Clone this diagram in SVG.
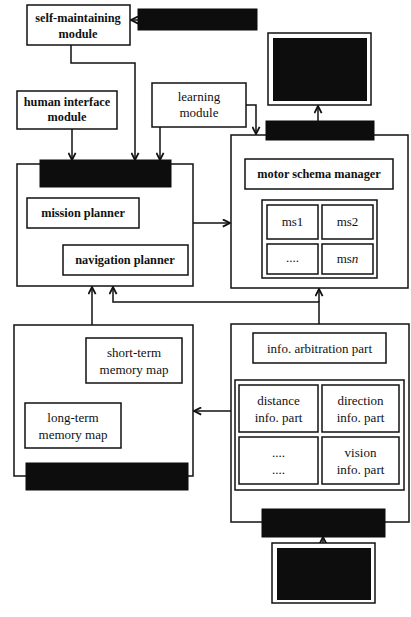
<svg xmlns="http://www.w3.org/2000/svg" width="411" height="617" viewBox="0 0 411 617">
<defs>
<marker id="arr" viewBox="0 0 10 10" refX="9" refY="5" markerWidth="9" markerHeight="9" orient="auto" markerUnits="userSpaceOnUse">
<path d="M1,1 L9,5 L1,9" fill="none" stroke="#111" stroke-width="2"/>
</marker>
<style>
.box{fill:#fff;stroke:#111;stroke-width:1.5}
.blk{fill:#0d0d0d;stroke:#0d0d0d;stroke-width:1}
.ln{fill:none;stroke:#111;stroke-width:1.5}
text{font-family:"Liberation Serif","Times New Roman",serif;font-size:13px;fill:#111;text-anchor:middle}
.b{font-weight:bold;font-size:12.3px}
</style>
</defs>
<rect width="411" height="617" fill="#fff"/>

<g id="connectors">
<path class="ln" d="M138,20 H131" marker-end="url(#arr)"/>
<path class="ln" d="M71,45 V63 H135 V160" marker-end="url(#arr)"/>
<path class="ln" d="M72,129 V160" marker-end="url(#arr)"/>
<path class="ln" d="M160,127 V160" marker-end="url(#arr)"/>
<path class="ln" d="M246,105 H256 V134" marker-end="url(#arr)"/>
<path class="ln" d="M318,121 V106" marker-end="url(#arr)"/>
<path class="ln" d="M193,223 H230" marker-end="url(#arr)"/>
<path class="ln" d="M92,325 V287" marker-end="url(#arr)"/>
<path class="ln" d="M319,324 V302 H113 V287" marker-end="url(#arr)"/>
<path class="ln" d="M319,302 V289" marker-end="url(#arr)"/>
<path class="ln" d="M231,411 H194" marker-end="url(#arr)"/>
<path class="ln" d="M323,543 V537" marker-end="url(#arr)"/>
</g>

<g id="self-maintaining">
<rect class="box" x="27" y="5" width="103" height="40"/>
<text class="b" x="78" y="22">self-maintaining</text>
<text class="b" x="78" y="38">module</text>
</g>
<g id="top-input">
<rect class="blk" x="138" y="9" width="119" height="21"/>
</g>
<g id="human-interface">
<rect class="box" x="17" y="91" width="100" height="38"/>
<text class="b" x="67" y="106">human interface</text>
<text class="b" x="67" y="121">module</text>
</g>
<g id="learning">
<rect class="box" x="152" y="83" width="94" height="44"/>
<text x="199" y="101">learning</text>
<text x="199" y="117">module</text>
</g>
<g id="monitor">
<rect class="box" x="268" y="33" width="103" height="72"/>
<rect class="blk" x="273.5" y="38.5" width="93" height="62"/>
</g>

<g id="planner">
<rect class="box" x="17" y="164" width="176" height="122"/>
<rect class="blk" x="40" y="160" width="131" height="27"/>
<rect class="box" x="27" y="198" width="112" height="30"/>
<text class="b" x="83" y="217">mission planner</text>
<rect class="box" x="63" y="245" width="125" height="30"/>
<text class="b" x="125" y="264">navigation planner</text>
</g>

<g id="motor">
<rect class="box" x="231" y="135" width="177" height="153"/>
<rect class="blk" x="266" y="121" width="108" height="19"/>
<rect class="box" x="245" y="159" width="148" height="30"/>
<text class="b" x="319" y="178">motor schema manager</text>
<rect class="box" x="262" y="200" width="115" height="78"/>
<rect class="box" x="267" y="205" width="51" height="34"/>
<text x="292.5" y="226">ms1</text>
<rect class="box" x="322" y="205" width="51" height="34"/>
<text x="347.5" y="226">ms2</text>
<rect class="box" x="267" y="244" width="51" height="30"/>
<text x="292.5" y="262">....</text>
<rect class="box" x="322" y="244" width="51" height="30"/>
<text x="347.5" y="263">ms<tspan font-style="italic">n</tspan></text>
</g>

<g id="memory">
<rect class="box" x="14" y="325" width="179" height="151"/>
<rect class="blk" x="26" y="463" width="162" height="27"/>
<rect class="box" x="86" y="338" width="96" height="45"/>
<text x="134" y="357">short-term</text>
<text x="134" y="374">memory map</text>
<rect class="box" x="25" y="403" width="96" height="45"/>
<text x="73" y="422">long-term</text>
<text x="73" y="439">memory map</text>
</g>

<g id="info">
<rect class="box" x="231" y="324" width="178" height="198"/>
<rect class="blk" x="262" y="509" width="123" height="28"/>
<rect class="box" x="253" y="333" width="133" height="30"/>
<text x="319.5" y="353">info. arbitration part</text>
<rect class="box" x="235" y="380" width="169" height="110"/>
<rect class="box" x="239" y="385" width="79" height="47"/>
<text x="278.5" y="405">distance</text>
<text x="278.5" y="422">info. part</text>
<rect class="box" x="322" y="385" width="77" height="47"/>
<text x="360.5" y="405">direction</text>
<text x="360.5" y="422">info. part</text>
<rect class="box" x="239" y="437" width="79" height="47"/>
<text x="278.5" y="457">....</text>
<text x="278.5" y="474">....</text>
<rect class="box" x="322" y="437" width="77" height="47"/>
<text x="360.5" y="457">vision</text>
<text x="360.5" y="474">info. part</text>
</g>

<g id="sensor">
<rect class="box" x="272" y="543" width="103" height="60"/>
<rect class="blk" x="277.5" y="548.5" width="93" height="51"/>
</g>
</svg>
